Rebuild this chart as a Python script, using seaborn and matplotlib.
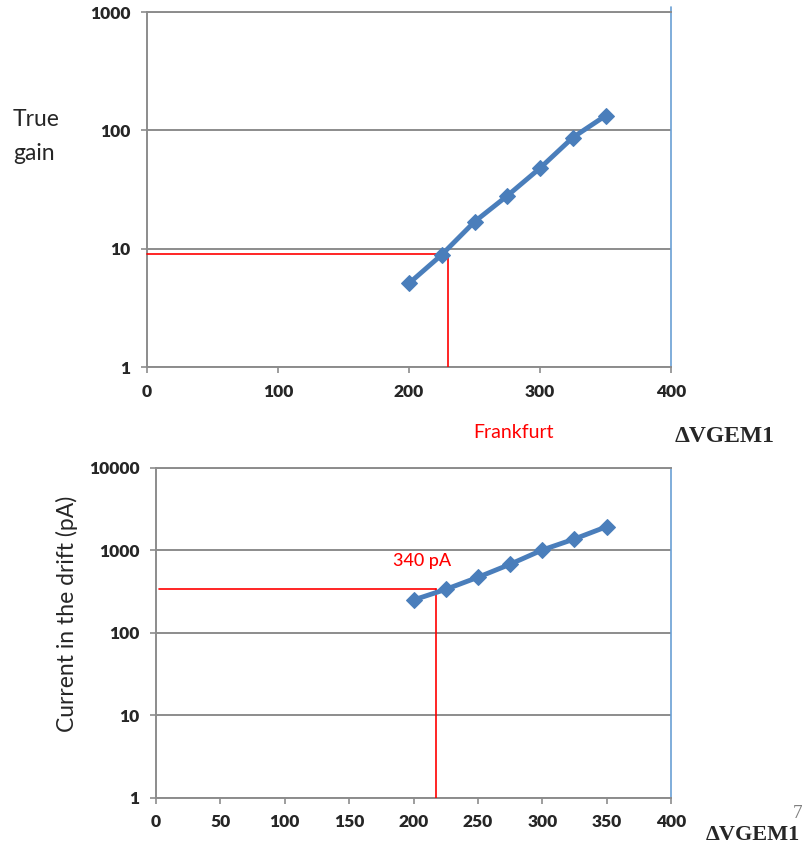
import matplotlib
matplotlib.use("Agg")
import matplotlib.pyplot as plt
import seaborn as sns
import pandas as pd
from matplotlib.ticker import FixedLocator, NullLocator

# GEM1 voltage scan data
dv_gem1 = [200, 225, 250, 275, 300, 325, 350]
true_gain = [5.1, 8.9, 16.9, 28, 48, 87, 133]
drift_current = [249, 335, 469, 675, 1005, 1367, 1927]

# working points marked in red
gain_point = (230, 9)
current_point = (217.5, 340)

top_xticks = [0, 100, 200, 300, 400]
top_yticks = [1, 10, 100, 1000]
bot_xticks = [0, 50, 100, 150, 200, 250, 300, 350, 400]
bot_yticks = [1, 10, 100, 1000, 10000]

sns.set_theme(style="white")
plt.rcParams["font.family"] = ["Lato", "DejaVu Sans"]

BLUE = "#4a7ebb"
GRID = "#8c8c8c"
RED = "#ff0000"

fig = plt.figure(figsize=(8.03, 8.48), dpi=100)
ax1 = fig.add_axes([0.1831, 0.5672, 0.6526, 0.4186])
ax2 = fig.add_axes([0.1943, 0.0593, 0.6413, 0.3892])

df_gain = pd.DataFrame({"dv": dv_gem1, "val": true_gain})
df_cur = pd.DataFrame({"dv": dv_gem1, "val": drift_current})


def style_axes(ax, xticks, yticks):
    ax.set_yscale("log")
    ax.set_xlim(xticks[0], xticks[-1])
    ax.set_ylim(yticks[0], yticks[-1])
    ax.xaxis.set_major_locator(FixedLocator(xticks))
    ax.yaxis.set_major_locator(FixedLocator(yticks))
    ax.yaxis.set_minor_locator(NullLocator())
    ax.set_xticklabels([str(t) for t in xticks])
    ax.set_yticklabels([str(t) for t in yticks])
    ax.grid(axis="y", color=GRID, linewidth=1.4)
    ax.grid(axis="x", visible=False)
    for s in ["left", "bottom", "top"]:
        ax.spines[s].set_color(GRID)
        ax.spines[s].set_linewidth(1.4)
    ax.spines["right"].set_visible(False)
    ax.tick_params(axis="both", which="major", direction="out", length=4,
                   width=1.2, color=GRID, labelsize=12.5, left=True, bottom=True)
    ax.tick_params(axis="x", pad=8)
    ax.tick_params(axis="y", pad=8)
    for lab in ax.get_xticklabels() + ax.get_yticklabels():
        lab.set_fontweight("heavy")
    ax.set_xlabel("")
    ax.set_ylabel("")


# Top: true gain
sns.lineplot(data=df_gain, x="dv", y="val", ax=ax1, color=BLUE, linewidth=3.5,
             marker="D", markersize=8, markeredgecolor=BLUE, zorder=5)
style_axes(ax1, top_xticks, top_yticks)
gx, gy = gain_point
ax1.plot([0, gx], [gy, gy], color=RED, linewidth=1.2, zorder=4, clip_on=False)
ax1.plot([gx, gx], [1, gy], color=RED, linewidth=1.2, zorder=4)
ax1.axvline(400, ymin=0, ymax=1.014, color="#6a9fd4", linewidth=1.2, clip_on=False)

# Bottom: current in the drift
sns.lineplot(data=df_cur, x="dv", y="val", ax=ax2, color=BLUE, linewidth=3.5,
             marker="D", markersize=8, markeredgecolor=BLUE, zorder=5)
style_axes(ax2, bot_xticks, bot_yticks)
cx, cy = current_point
ax2.plot([2, cx], [cy, cy], color=RED, linewidth=1.2, zorder=4)
ax2.plot([cx, cx], [1, cy], color=RED, linewidth=1.2, zorder=4)
ax2.axvline(400, ymin=0, ymax=1.0, color="#6a9fd4", linewidth=1.2, clip_on=False)

# Labels and annotations
fig.text(13 / 803, 1 - 120 / 848, "True", fontsize=16.5, ha="left", va="center")
fig.text(13 / 803, 1 - 153 / 848, "gain", fontsize=16.5, ha="left", va="center")
fig.text(67 / 803, 1 - 614 / 848, "Current in the drift (pA)", fontsize=16.5,
         rotation=90, ha="center", va="center")
fig.text(473 / 803, 1 - 433 / 848, "Frankfurt", color=RED, fontsize=14,
         ha="left", va="center")
fig.text(393 / 803, 1 - 561 / 848, "340 pA", color=RED, fontsize=13,
         fontweight="medium", ha="left", va="center")
fig.text(675 / 803, 1 - 436 / 848, "\u0394VGEM1", fontsize=17, fontweight="bold",
         family=["Liberation Serif", "DejaVu Serif"], ha="left", va="center")
fig.text(800 / 803, 1 - 835 / 848, "\u0394VGEM1", fontsize=16, fontweight="bold",
         family=["Liberation Serif", "DejaVu Serif"], ha="right", va="center")
fig.text(793 / 803, 1 - 814 / 848, "7", fontsize=14, color="#7f7f7f",
         family=["Liberation Serif", "DejaVu Serif"], ha="left", va="center")

fig.savefig("out.png", dpi=100)
